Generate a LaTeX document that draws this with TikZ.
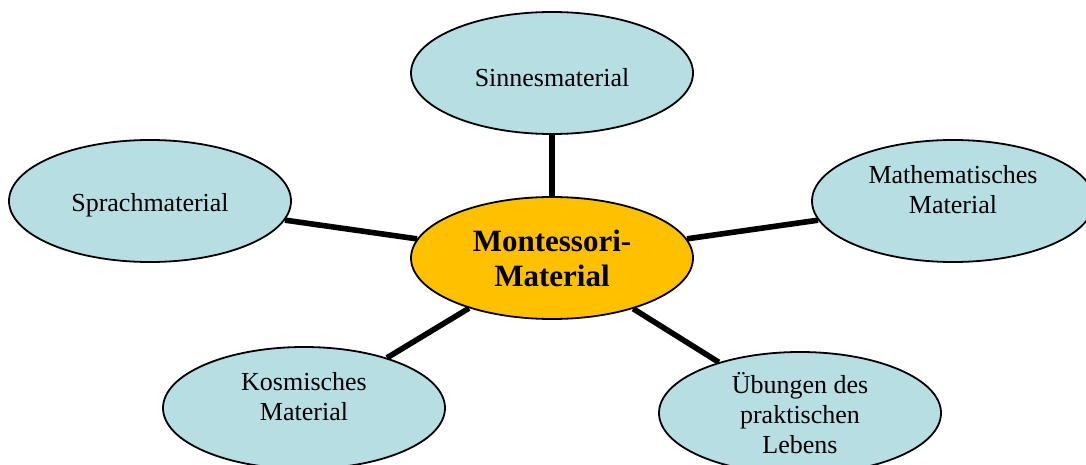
\documentclass[tikz,border=0pt]{standalone}
\usepackage{fontspec}
\setmainfont{Liberation Serif}
\usepackage{xcolor}
\usetikzlibrary{shapes.geometric,backgrounds}
\definecolor{bubbleblue}{RGB}{183,223,227}
\definecolor{coreorange}{RGB}{255,192,0}

\begin{document}
\begin{tikzpicture}[
   x=0.5pt,y=-0.5pt,
   font=\fontsize{13}{15}\selectfont,
   bubble/.style={draw,ellipse,line width=0.9pt,fill=bubbleblue,inner sep=0pt,minimum width=141pt,minimum height=61pt},
   core/.style={bubble,fill=coreorange,align=center,font=\fontsize{15.5}{17.5}\selectfont\bfseries},
   txt/.style={align=center,inner sep=0pt},
   spoke/.style={line width=2.8pt}]
 \clip (0,0) rectangle (1086,465);
 \node[core] (mont) at (552,258) {Montessori-\\Material};
 \node[bubble] (sinnes) at (552,73) {};
 \node[bubble] (sprach) at (150,201) {};
 \node[bubble] (mathe) at (953,201) {};
 \node[bubble] (kosmos) at (304,408) {};
 \node[bubble] (leben) at (800,413) {};
 \node[txt] (sinnesT) at (552,78) {Sinnesmaterial};
 \node[txt] (sprachT) at (150,205) {Sprachmaterial};
 \node[txt] (matheT) at (953,190) {Mathematisches\\Material};
 \node[txt] (kosmosT) at (304,397) {Kosmisches\\Material};
 \node[txt] (lebenT) at (800,413) {Übungen des\\praktischen\\Lebens};
 \begin{scope}[on background layer]
  \draw[spoke] (mont) -- (sinnes);
  \draw[spoke] (mont) -- (sprach);
  \draw[spoke] (mont) -- (mathe);
  \draw[spoke] (mont) -- (kosmos);
  \draw[spoke] (mont) -- (leben);
 \end{scope}
\end{tikzpicture}
\end{document}
